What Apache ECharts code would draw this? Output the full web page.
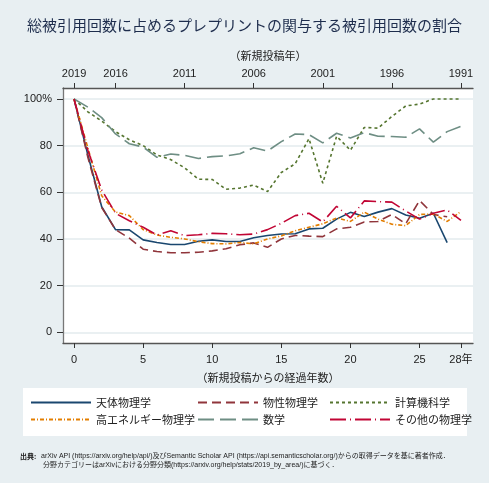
<!DOCTYPE html>
<html>
<head>
<meta charset="utf-8">
<script src="https://cdn.jsdelivr.net/npm/echarts@6/dist/echarts.min.js"></script>
<style>
html, body { margin: 0; padding: 0; background: #e8eff2; }
#chart { width: 489px; height: 483px; }
</style>
</head>
<body>
<div id="chart"></div>
<script>
// 経過年数ごとの割合（%）
var years = [0, 1, 2, 3, 4, 5, 6, 7, 8, 9, 10, 11, 12, 13, 14, 15, 16, 17, 18, 19, 20, 21, 22, 23, 24, 25, 26, 27, 28];
var astro = [100, 76, 53.8, 44, 43.9, 39.6, 38.5, 37.6, 37.6, 39, 39.6, 38.9, 38.9, 40.5, 41.5, 42.1, 42.2, 44.3, 44.6, 48.5, 51.4, 49.6, 51.5, 53, 50.3, 48.9, 51, 38.4];
var condMat = [100, 75, 53.5, 44, 40.3, 35.6, 34.6, 34.1, 34.1, 34.3, 34.9, 35.8, 37.5, 38.3, 36.4, 40, 41.5, 41.2, 41, 44.3, 45, 47.3, 47.5, 50.5, 46.5, 56.5, 50.5, 49.5];
var compSci = [100, 94.5, 90.5, 86, 82.5, 80, 76, 74, 70.5, 65.6, 65.5, 61.3, 61.8, 63.1, 60.3, 68.5, 72.2, 83, 63.9, 84, 78, 87.8, 87.5, 92.5, 97, 97.8, 100, 100, 100];
var hep = [100, 79, 58.5, 51.5, 50, 44, 41.7, 40.7, 40, 38.8, 38, 37.9, 38.5, 37.9, 40, 41.3, 43.5, 45, 46.5, 49, 47.5, 51.5, 48.5, 46.3, 45.7, 50.5, 50.7, 47.5, 51.8];
var math = [100, 96.5, 92, 85, 80.8, 79.4, 75, 76.4, 75.8, 74.5, 75.3, 75.6, 76.5, 79.1, 77.7, 81.7, 85, 84.7, 81.2, 85.3, 83.3, 85.6, 84, 83.9, 83.6, 87.2, 81.5, 86, 88.3];
var otherPhys = [100, 78, 61, 51, 47.8, 45, 41.7, 43.5, 41.4, 41.8, 42.4, 42.2, 41.8, 42.1, 44, 46.7, 50, 51, 47.3, 54, 49, 56.3, 56, 55.8, 52, 48.5, 51, 52.4, 48];

var bottomTicks = [0, 5, 10, 15, 20, 25, 28];
var topTicks = [0, 3, 8, 13, 18, 23, 28];
var yTicks = [0, 20, 40, 60, 80, 100];
var baseYear = 2019;

var latin = "'Liberation Sans', 'Noto Sans CJK JP', sans-serif";
var cjk = "'Noto Sans CJK JP', sans-serif";

function pairs(vals) {
    var out = [];
    for (var i = 0; i < vals.length; i++) {
        out.push([years[i], vals[i]]);
    }
    return out;
}

function lineSeries(name, vals, color, dash) {
    return {
        name: name,
        type: 'line',
        data: pairs(vals),
        symbol: 'none',
        showSymbol: false,
        animation: false,
        lineStyle: { color: color, width: 1.6, type: dash },
        itemStyle: { color: color }
    };
}

var myChart = echarts.init(document.getElementById('chart'));

var legendText = { color: '#222', fontSize: 11, fontFamily: cjk };
// 凡例は線だけ（マーカーを消す）
var legendItem = { color: 'rgba(0,0,0,0)', borderColor: 'rgba(0,0,0,0)', borderWidth: 0 };

option = {
    backgroundColor: '#e8eff2',
    title: {
        text: '総被引用回数に占めるプレプリントの関与する被引用回数の割合',
        left: 'center',
        top: 13,
        textStyle: { color: '#1e2d4d', fontSize: 15, fontWeight: 'normal', fontFamily: cjk }
    },
    grid: {
        left: 63,
        right: 16,
        top: 88,
        bottom: 140,
        show: true,
        backgroundColor: '#ffffff',
        borderWidth: 0
    },
    xAxis: [
        {
            type: 'value',
            position: 'bottom',
            min: -0.8,
            max: 28.87,
            name: '（新規投稿からの経過年数）',
            nameLocation: 'middle',
            nameGap: 29,
            nameTextStyle: { color: '#222', fontSize: 11, fontFamily: cjk },
            axisLine: { show: true, onZero: false, lineStyle: { color: '#555', width: 1.3 } },
            axisTick: { show: true, length: 5, customValues: bottomTicks, lineStyle: { color: '#333' } },
            axisLabel: {
                customValues: bottomTicks,
                margin: 11,
                color: '#222',
                fontSize: 11,
                fontFamily: latin,
                formatter: function (v) { return v === 28 ? '28年' : String(v); }
            },
            splitLine: { show: false }
        },
        {
            type: 'value',
            position: 'top',
            min: -0.8,
            max: 28.87,
            name: '（新規投稿年）',
            nameLocation: 'middle',
            nameGap: 27,
            nameTextStyle: { color: '#222', fontSize: 11, fontFamily: cjk },
            axisLine: { show: true, onZero: false, lineStyle: { color: '#555', width: 1.3 } },
            axisTick: { show: true, length: 5, customValues: topTicks, lineStyle: { color: '#333' } },
            axisLabel: {
                customValues: topTicks,
                margin: 9,
                color: '#222',
                fontSize: 11,
                fontFamily: latin,
                formatter: function (v) { return String(baseYear - v); }
            },
            splitLine: { show: false }
        }
    ],
    yAxis: {
        type: 'value',
        min: -4.6,
        max: 104.7,
        axisLine: { show: true, onZero: false, lineStyle: { color: '#777', width: 1.3 } },
        axisTick: { show: true, length: 6, customValues: yTicks, lineStyle: { color: '#333' } },
        axisLabel: {
            customValues: yTicks,
            margin: 11,
            color: '#222',
            fontSize: 11,
            fontFamily: latin,
            formatter: function (v) { return v === 100 ? '100%' : String(v); }
        },
        splitLine: { show: true, lineStyle: { color: '#e3ebee', width: 1.5 } }
    },
    legend: [
        {
            data: ['天体物理学', '高エネルギー物理学'],
            orient: 'vertical', left: 30, top: 397, padding: 0,
            itemWidth: 60, itemHeight: 12, itemGap: 6,
            itemStyle: legendItem,
            textStyle: legendText
        },
        {
            data: ['物性物理学', '数学'],
            orient: 'vertical', left: 197, top: 397, padding: 0,
            itemWidth: 60, itemHeight: 12, itemGap: 6,
            itemStyle: legendItem,
            textStyle: legendText
        },
        {
            data: ['計算機科学', 'その他の物理学'],
            orient: 'vertical', left: 329, top: 397, padding: 0,
            itemWidth: 60, itemHeight: 12, itemGap: 6,
            itemStyle: legendItem,
            textStyle: legendText
        }
    ],
    graphic: [
        {
            type: 'rect',
            z: -1,
            shape: { x: 23, y: 388, width: 444, height: 48 },
            style: { fill: '#ffffff' }
        },
        {
            type: 'text',
            left: 20, top: 453,
            style: { text: '出典:', fill: '#222', font: "bold 7px 'Noto Sans CJK JP', sans-serif" }
        },
        {
            type: 'text',
            left: 41, top: 453,
            style: {
                text: 'arXiv API (https://arxiv.org/help/api/)及びSemantic Scholar API (https://api.semanticscholar.org/)からの取得データを基に著者作成．',
                fill: '#222', font: "7px 'Liberation Sans', 'Noto Sans CJK JP', sans-serif"
            }
        },
        {
            type: 'text',
            left: 43, top: 462,
            style: {
                text: '分野カテゴリーはarXivにおける分野分類(https://arxiv.org/help/stats/2019_by_area/)に基づく．',
                fill: '#222', font: "7px 'Liberation Sans', 'Noto Sans CJK JP', sans-serif"
            }
        }
    ],
    series: [
        lineSeries('天体物理学', astro, '#1a476f', 'solid'),
        lineSeries('物性物理学', condMat, '#90353b', [9, 5]),
        lineSeries('計算機科学', compSci, '#55752f', [3, 3]),
        lineSeries('高エネルギー物理学', hep, '#e37e00', [4, 2, 1, 2]),
        lineSeries('数学', math, '#6e8e84', [16, 6]),
        lineSeries('その他の物理学', otherPhys, '#c10534', [16, 4, 1, 4])
    ]
};

myChart.setOption(option);
</script>
</body>
</html>
